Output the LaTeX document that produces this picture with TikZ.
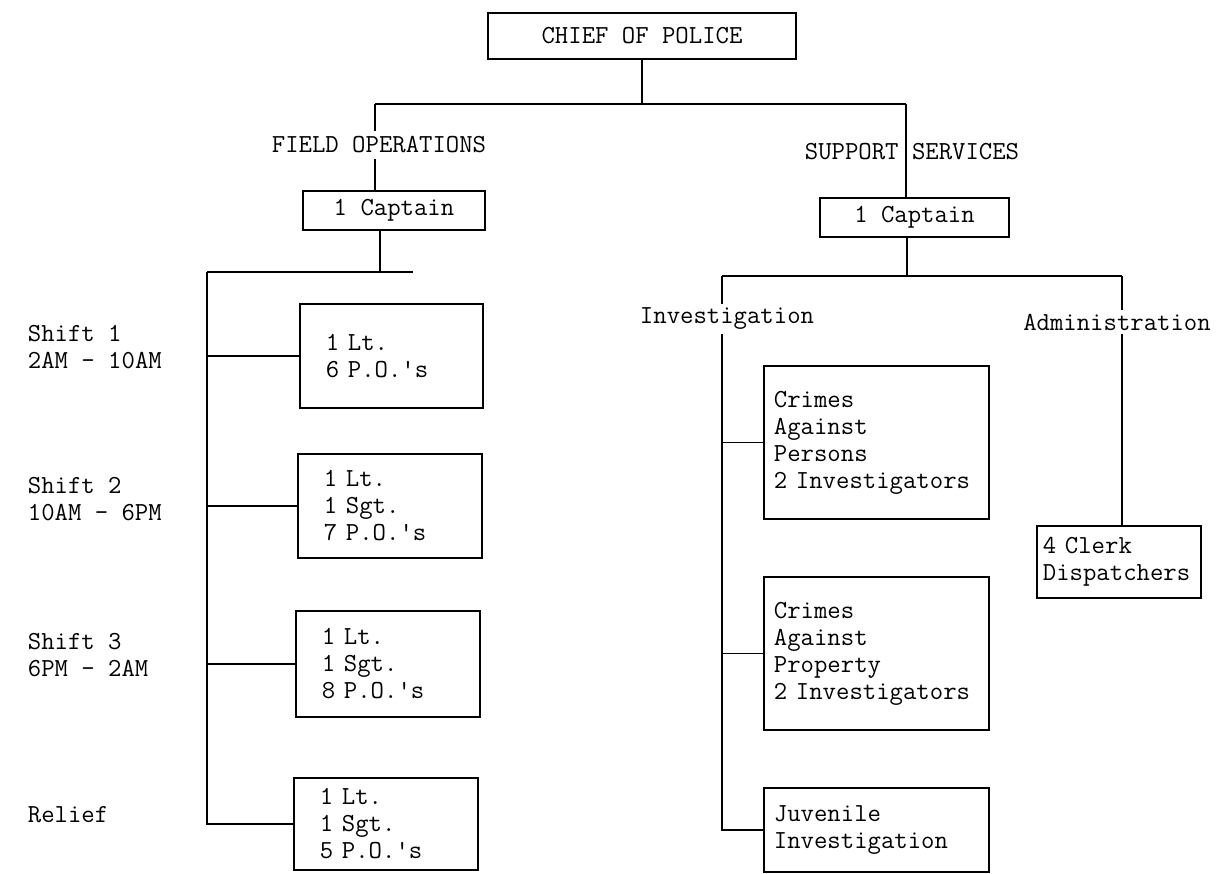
\documentclass[tikz,border=0pt]{standalone}
\usepackage{fontspec}
\begin{document}
\begin{tikzpicture}[x=1pt,y=-1pt,line width=1.8pt,
        every node/.style={font=\ttfamily\fontsize{26}{27}\selectfont},
        box/.style={draw,anchor=north west,align=left,inner ysep=0pt},
        lbl/.style={anchor=west,align=left,inner sep=0pt}]
            \useasboundingbox (0,0) rectangle (1217,873);

            \node [draw,minimum width=308pt,minimum height=46pt] (chief) at (642,36) {CHIEF OF POLICE};
            \coordinate (fldtop) at (375,104);
            \coordinate (suptop) at (906,104);
            \draw (chief.south) -- (chief.south |- fldtop);
            \draw (fldtop) -- (suptop);

            \node [inner ysep=5pt] (field) at (379,145) {FIELD OPERATIONS};
            \node [draw,minimum width=182pt,minimum height=39pt] (fcapt) at (394,210.5) {1 Captain};
            \draw (fldtop) -- (fldtop |- field.north);
            \draw (fldtop |- field.south) -- (fldtop |- fcapt.north);

            \coordinate (fbus) at (207,272);
            \coordinate (fbusend) at (413,272);
            \coordinate (fdrop) at (380,272);
            \draw (fdrop |- fcapt.south) -- (fdrop);
            \draw (fbusend) -- (fbus);

            \node [box,text width=131pt,inner xsep=26pt,minimum height=104pt] (shift1) at (299,303) {1 Lt.\\6 P.O.'s};
            \node [box,text width=132pt,inner xsep=26pt,minimum height=104pt] (shift2) at (297,453) {1 Lt.\\1 Sgt.\\7 P.O.'s};
            \node [box,text width=132pt,inner xsep=26pt,minimum height=106pt] (shift3) at (295,610) {1 Lt.\\1 Sgt.\\8 P.O.'s};
            \node [box,text width=132pt,inner xsep=26pt,minimum height=92pt] (relief) at (293,777) {1 Lt.\\1 Sgt.\\5 P.O.'s};

            \draw (fbus) -- (fbus |- relief.west) -- (relief.west);
            \foreach \s in {shift1,shift2,shift3}
                \draw (fbus |- \s.west) -- (\s.west);

            \node [lbl] (shift1lbl) at (27,347) {Shift 1\\2AM - 10AM};
            \node [lbl] (shift2lbl) at (27,499) {Shift 2\\10AM - 6PM};
            \node [lbl] (shift3lbl) at (27,655) {Shift 3\\6PM - 2AM};
            \node [lbl] (relieflbl) at (27,815) {Relief};

            \node (support) at (912,152) {SUPPORT SERVICES};
            \node [draw,minimum width=189pt,minimum height=39pt] (scapt) at (914.5,217.5) {1 Captain};
            \draw (suptop) -- (suptop |- scapt.north);

            \coordinate (invtop) at (722,276);
            \coordinate (admtop) at (1122,276);
            \coordinate (sdrop) at (907,276);
            \draw (sdrop |- scapt.south) -- (sdrop);
            \draw (invtop) -- (admtop);

            \node [inner ysep=3pt] (inv) at (727,319) {Investigation};
            \node [inner ysep=3pt] (adm) at (1117,322) {Administration};
            \draw (invtop) -- (invtop |- inv.north);
            \draw (admtop) -- (admtop |- adm.north);

            \node [box,text width=205pt,inner xsep=10pt,minimum height=153pt] (persons) at (763,365) {Crimes\\Against\\Persons\\2 Investigators};
            \node [box,text width=205pt,inner xsep=10pt,minimum height=153pt] (property) at (763,576) {Crimes\\Against\\Property\\2 Investigators};
            \node [box,text width=205pt,inner xsep=10pt,minimum height=84pt] (juvenile) at (763,787) {Juvenile\\Investigation};
            \node [box,text width=152pt,inner xsep=6pt,minimum height=72pt] (clerk) at (1036,525) {4 Clerk\\Dispatchers};

            \draw (invtop |- inv.south) -- (invtop |- juvenile.west) -- (juvenile.west);
            \draw (invtop |- persons.west) -- (persons.west);
            \draw (invtop |- property.west) -- (property.west);
            \draw (admtop |- adm.south) -- (admtop |- clerk.north);
        \end{tikzpicture}
\end{document}
